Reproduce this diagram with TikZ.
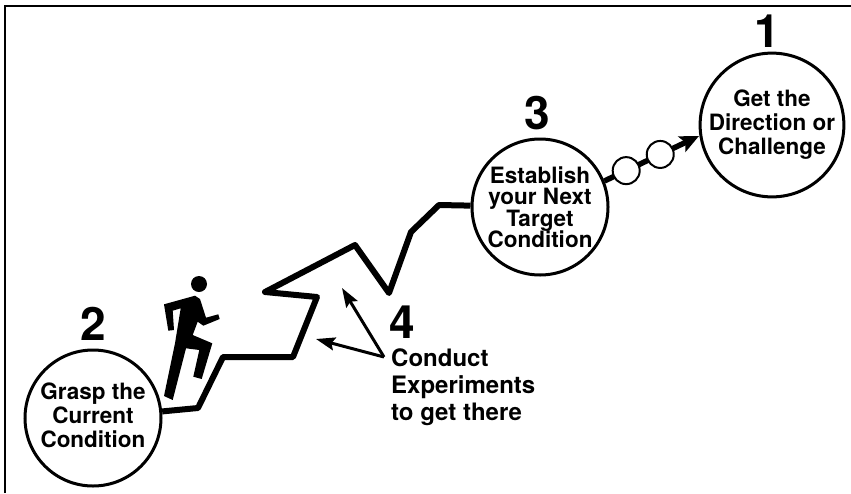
\documentclass[tikz,border=0pt]{standalone}
\usepackage{fontspec}
\setmainfont{TeX Gyre Heros}
\usetikzlibrary{arrows.meta}
\setlength{\lineskiplimit}{-10pt}
\tikzset{
  font=\bfseries,
  % Numbered stage circle
  stage/.style={draw, fill=white, shape=circle, line width=3pt, minimum size=136pt,
    inner sep=0pt, align=center, font=\fontsize{22.5}{24}\selectfont\bfseries},
  % Small circle on the way to the challenge
  waypoint/.style={draw, fill=white, shape=circle, line width=2pt, minimum size=27pt,
    inner sep=0pt},
  % Big digits
  digit/.style={inner sep=0pt, font=\fontsize{46}{46}\selectfont\bfseries},
  % Stepped line
  stairs/.style={line width=6pt, line join=round},
  % Arrows
  q->/.style={-{Stealth[length=19pt, width=17pt, inset=4pt]}, line width=5.5pt},
  note->/.style={-{Stealth[length=19pt, width=13pt, inset=3pt]}, line width=3pt},
}
\begin{document}
\begin{tikzpicture}[x=1pt, y=-1pt]
  \useasboundingbox (0,0) rectangle (851,493);

  \draw[line width=2pt] (5,493) -- (5,6) -- (851,6);

  % Stages
  \node[stage] (grasp) at (93,418) {Grasp the\\Current\\Condition\vphantom{g}};
  \node[stage, font=\fontsize{22.5}{21.5}\selectfont\bfseries] (target) at (540,207)
    {Establish\\your Next\\Target\\Condition};
  \node[stage] (goal) at (772,125) {Get the\\Direction or\\Challenge};

  \node[digit] (two) at (93,324) {2};
  \node[digit] (three) at (537,113) {3};
  \node[digit] (one) at (767,31) {1};
  \node[digit] (four) at (402,322) {4};

  % Line between the stages
  \coordinate (s1) at (198,408);
  \coordinate (s2) at (223,357);
  \coordinate (s3) at (293,357);
  \coordinate (s4) at (317,297);
  \coordinate (s5) at (265,292);
  \coordinate (s6) at (355,245);
  \coordinate (s7) at (389,293);
  \coordinate (s8) at (411,232);
  \coordinate (s9) at (439,205);
  \draw[stairs] (grasp) -- (s1) -- (s2) -- (s3) -- (s4) -- (s5) -- (s6) -- (s7)
    -- (s8) -- (s9) -- (target);

  \coordinate (tip) at (699,136);
  \draw[q->] (target.22) -- (tip)
    node[waypoint, pos=0.23] (way1) {}
    node[waypoint, pos=0.59] (way2) {};

  % Experiments
  \node[anchor=north west, inner sep=0pt, align=left,
    font=\fontsize{24}{27}\selectfont\bfseries] (conduct) at (391,349)
    {Conduct\\Experiments\\to get there};
  \coordinate (fork) at (384,357);
  \coordinate (tip1) at (342,288);
  \coordinate (tip2) at (316,339);
  \draw[note->] (fork) -- (tip1);
  \draw[note->] (fork) -- (tip2);

  % Runner
  \fill (199,284) circle [radius=8];
  \fill (164,304.3) -- (195,295.7) -- (200,299) -- (206,317.7) -- (218.3,314.3)
    -- (219.7,319) -- (203.3,325.7) -- (197.7,321.7) -- (192.7,335) -- (212.3,343.3)
    -- (201.7,379) -- (193.3,376.7) -- (199.3,350) -- (186,348.3) -- (172.7,400)
    -- (164,396) -- (175,343.3) -- (180.7,308.3) -- (172.7,310.7) -- (174,330)
    -- (168.3,330.7) -- cycle;
\end{tikzpicture}
\end{document}
